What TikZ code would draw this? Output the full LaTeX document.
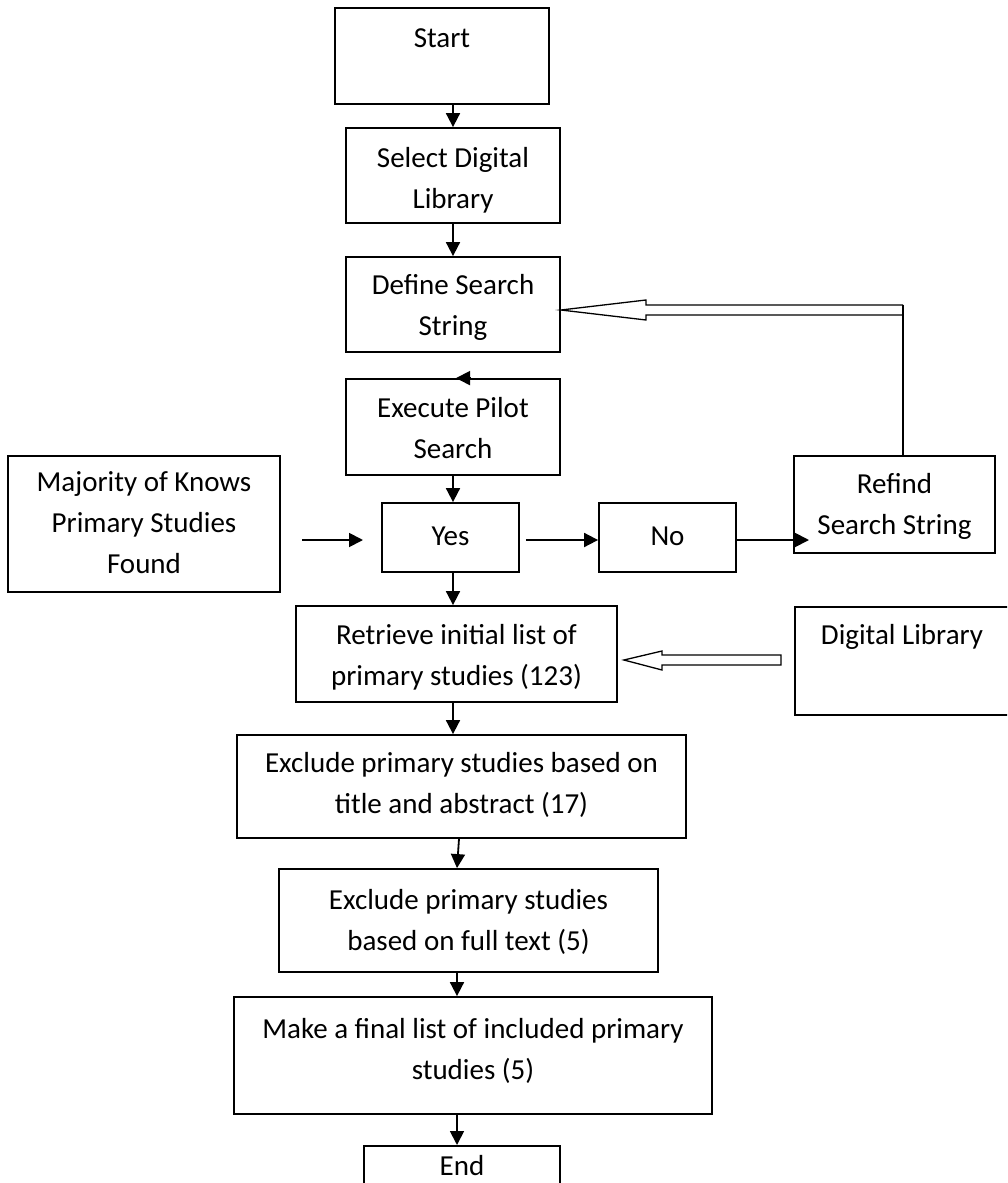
\documentclass[tikz,border=0pt]{standalone}
\usepackage{fontspec}
\setmainfont{Carlito}
\usetikzlibrary{arrows.meta,calc}
\begin{document}
\begin{tikzpicture}[x=1pt,y=-1pt,
  box/.style={draw, line width=1.8pt, inner sep=0pt},
  txt/.style={inner sep=0pt, align=center, font={\fontsize{29}{41}\selectfont}},
  arr/.style={line width=1.8pt, -{Triangle[length=14pt,width=14pt]}},
  hollow/.style={draw, line width=1.3pt, line join=miter}]
\useasboundingbox (0,0) rectangle (1007,1183);
\clip (0,0) rectangle (1007,1183);
% boxes
\node[box, minimum width=214pt, minimum height=96pt] (start) at (442,56) {};
\node[box, minimum width=214pt, minimum height=95pt] (select) at (453,175.5) {};
\node[box, minimum width=214pt, minimum height=95pt] (define) at (453,304.5) {};
\node[box, minimum width=214pt, minimum height=96pt] (execute) at (453,427) {};
\node[box, minimum width=272pt, minimum height=136pt] (major) at (144,524) {};
\node[box, minimum width=137pt, minimum height=69pt] (yes) at (450.5,537.5) {};
\node[box, minimum width=137pt, minimum height=69pt] (no) at (667.5,537.5) {};
\node[box, minimum width=201pt, minimum height=97pt] (refind) at (894.5,504.5) {};
\node[box, minimum width=321pt, minimum height=96pt] (retrieve) at (456.5,654) {};
\node[box, minimum width=214pt, minimum height=108pt] (diglib) at (902,661) {};
\node[box, minimum width=449pt, minimum height=103pt] (excl1) at (461.5,786.5) {};
\node[box, minimum width=379pt, minimum height=103pt] (excl2) at (468.5,920.5) {};
\node[box, minimum width=478pt, minimum height=117pt] (final) at (473,1055.5) {};
\node[box, minimum width=196pt, minimum height=104pt, anchor=north] (end) at (462,1145) {};
% texts
\node[txt] (start-t) at (442,38) {Start};
\node[txt] (select-t) at (453,180) {Select Digital\\Library};
\node[txt] (define-t) at (453,307) {Define Search\\String};
\node[txt] (execute-t) at (453,428) {Execute Pilot\\Search};
\node[txt] (major-t) at (144,523) {Majority of Knows\\Primary Studies\\Found};
\node[txt] (yes-t) at (450.5,536) {Yes};
\node[txt] (no-t) at (667.5,536) {No};
\node[txt] (refind-t) at (894.5,506.5) {Refind\\Search String};
\node[txt] (retrieve-t) at (456.5,657.5) {Retrieve initial list of\\primary studies (123)};
\node[txt] (diglib-t) at (902,637) {Digital Library};
\node[txt] (excl1-t) at (461.5,785) {Exclude primary studies based on\\title and abstract (17)};
\node[txt] (excl2-t) at (468.5,922) {Exclude primary studies\\based on full text (5)};
\node[txt] (final-t) at (473,1051) {Make a final list of included primary\\studies (5)};
\node[txt] (end-t) at (462,1166) {End};
% vertical arrows
\coordinate (ax) at (453,0);
\coordinate (bx) at (457,0);
\draw[arr] (start.south -| select.north) -- (select.north);
\draw[arr] (select.south) -- (define.north);
\draw[arr] ([xshift=17pt]execute.north) -- ([xshift=3pt]execute.north);
\draw[arr] (ax |- execute.south) -- (ax |- yes.north);
\draw[arr] (ax |- yes.south) -- (ax |- retrieve.north);
\draw[arr] (ax |- retrieve.south) -- (ax |- excl1.north);
\draw[arr] ([xshift=2pt]bx |- excl1.south) -- (bx |- excl2.north);
\draw[arr] (bx |- excl2.south) -- (bx |- final.north);
\draw[arr] (bx |- final.south) -- (bx |- end.north);
% horizontal arrows
\coordinate (mya) at (302,540);
\coordinate (myb) at (363,540);
\draw[arr] (mya) -- (myb);
\draw[arr] ([xshift=6pt]yes.east |- mya) -- (no.west |- mya);
\coordinate (nr) at (809,540);
\draw[arr] (no.east |- nr) -- (nr);
% hollow arrow from refind to define
\coordinate (r1) at (903,305);
\coordinate (r2) at (903,315);
\draw[hollow] (r1) -- (646,305) -- (646,300) -- (define.east |- 0,310) -- (646,320) -- (646,315) -- (r2);
\draw[line width=1.5pt] (r1) -- (r1 |- refind.north);
% hollow arrow from digital library to retrieve
\draw[hollow] (781,655) -- (662,655) -- (662,651) -- ([xshift=6pt]retrieve.east |- 0,660) -- (662,670) -- (662,665) -- (781,665) -- cycle;
\end{tikzpicture}
\end{document}
